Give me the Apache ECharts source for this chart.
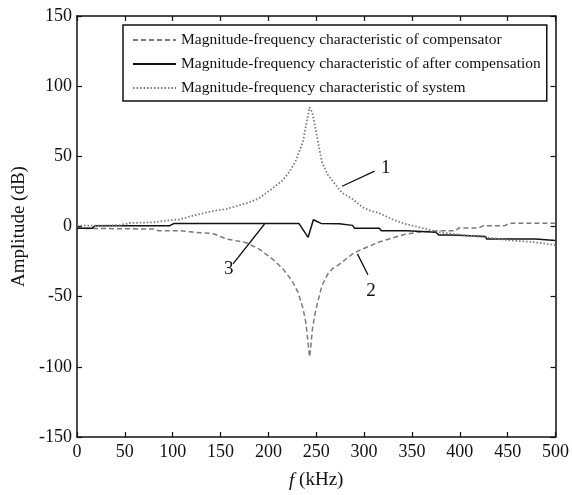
<!DOCTYPE html>
<html>
<head>
<meta charset="utf-8">
<script src="https://cdn.jsdelivr.net/npm/echarts@6/dist/echarts.min.js"></script>
<style>
  html, body { margin: 0; padding: 0; background: #fff; }
  #chart { width: 572px; height: 495px; }
</style>
</head>
<body>
<div id="chart"></div>
<script>
// axis ticks
var xTicks = [0, 50, 100, 150, 200, 250, 300, 350, 400, 450, 500];
var yTicks = [-150, -100, -50, 0, 50, 100, 150];

// curve 2: compensator (dashed)
var compFreq = [0, 80, 85, 107, 121, 142, 156, 177, 190, 204, 215, 225, 231, 236, 239, 241, 243, 244, 246, 248, 250, 253, 256, 262, 267, 274, 288, 295, 316, 326, 343, 357, 378, 396, 399, 420, 425, 447, 452, 500];
var compDb   = [-1.3, -1.8, -3, -3, -4, -5, -8.9, -11.5, -16, -23, -30, -39, -47, -58, -68, -80, -93, -88, -73, -65, -58, -50, -42, -34, -30, -27, -19.5, -17, -11, -8.9, -5.5, -4, -3, -3, -1, -1, 0.6, 0.6, 2.3, 2.3];

// curve 3: after compensation (solid)
var afterFreq = [0, 16, 19, 97, 101, 232, 241.5, 247, 255, 274, 276, 288, 290, 316, 318, 345, 347, 375, 378, 392, 394, 427, 428, 479, 481, 500];
var afterDb   = [-1.3, -1.3, 0.6, 0.6, 2.1, 2.1, -7.7, 4.8, 2.2, 2.0, 0.8, 0.8, -1.3, -1.3, -3, -3, -4.1, -4.1, -6, -6, -7.2, -7.2, -8.9, -8.9, -10, -10];

// curve 1: system (dotted)
var sysFreq = [0, 20, 45, 55, 80, 90, 107, 121, 142, 156, 177, 190, 204, 215, 222, 228, 232, 236, 239, 241, 243, 244, 246, 248, 250, 253, 256, 262, 271, 277, 288, 300, 308, 316, 330, 343, 360, 378, 395, 412, 430, 454, 475, 498, 500];
var sysDb   = [0.6, 0.6, 1, 2.5, 3, 4, 5, 7.7, 11, 12.5, 16.5, 20, 27, 33, 39, 46, 53, 60, 71, 78, 85, 84, 81, 74, 67, 56, 46, 37, 29, 24, 19.5, 13, 11, 9.5, 5, 1.8, -1, -4, -5.5, -6.7, -8, -10, -11, -13, -13];

// curve callouts: label, line start, line end (data units)
var callouts = [
  { label: '1', from: [277, 28.7], to: [311, 39.4] },
  { label: '3', from: [196, 1.8], to: [163, -26.6] },
  { label: '2', from: [293, -19.5], to: [304, -34.4] }
];

function pairs(xs, ys) {
  var out = [];
  for (var i = 0; i < xs.length; i++) out.push([xs[i], ys[i]]);
  return out;
}

var font = 'Liberation Serif';
var ink = '#111';

function boxAxis(extra) {
  var a = {
    type: 'value',
    interval: 50,
    axisLine: { show: true, onZero: false, lineStyle: { color: ink, width: 1.5 } },
    axisTick: { show: true, inside: true, length: 5, lineStyle: { color: ink, width: 1.2 } },
    splitLine: { show: false }
  };
  for (var k in extra) a[k] = extra[k];
  return a;
}

var myChart = echarts.init(document.getElementById('chart'));

var option = {
  animation: false,
  backgroundColor: '#fff',
  grid: { left: 77, right: 15, top: 16, bottom: 56 },
  legend: {
    orient: 'vertical',
    left: 123,
    top: 25,
    padding: [7, 6, 5, 9],
    itemGap: 8,
    itemWidth: 43,
    itemHeight: 14,
    borderColor: ink,
    borderWidth: 1.5,
    backgroundColor: '#fff',
    itemStyle: { opacity: 0 },
    textStyle: { fontFamily: font, fontSize: 15.5, color: ink },
    data: [
      'Magnitude-frequency characteristic of compensator',
      'Magnitude-frequency characteristic of after compensation',
      'Magnitude-frequency characteristic of system'
    ]
  },
  xAxis: [
    boxAxis({
      min: xTicks[0], max: xTicks[xTicks.length - 1],
      position: 'bottom',
      name: '{i|f} (kHz)',
      nameLocation: 'middle',
      nameGap: 34,
      nameTextStyle: {
        fontFamily: font, fontSize: 19, color: ink,
        rich: { i: { fontFamily: font, fontStyle: 'italic', fontSize: 19, color: ink } }
      },
      axisLabel: { fontFamily: font, fontSize: 18, color: ink, margin: 6 }
    }),
    boxAxis({
      min: xTicks[0], max: xTicks[xTicks.length - 1],
      position: 'top',
      axisLabel: { show: false }
    })
  ],
  yAxis: [
    boxAxis({
      min: yTicks[0], max: yTicks[yTicks.length - 1],
      position: 'left',
      name: 'Amplitude (dB)',
      nameLocation: 'middle',
      nameGap: 43,
      nameTextStyle: { fontFamily: font, fontSize: 19, color: ink },
      axisLabel: { fontFamily: font, fontSize: 18, color: ink, margin: 5 }
    }),
    boxAxis({
      min: yTicks[0], max: yTicks[yTicks.length - 1],
      position: 'right',
      axisLabel: { show: false }
    })
  ],
  series: [
    {
      name: 'Magnitude-frequency characteristic of compensator',
      type: 'line',
      symbol: 'none',
      data: pairs(compFreq, compDb),
      lineStyle: { color: '#7a7a7a', width: 1.5, type: [5, 3] },
      itemStyle: { color: '#7a7a7a' }
    },
    {
      name: 'Magnitude-frequency characteristic of after compensation',
      type: 'line',
      symbol: 'none',
      data: pairs(afterFreq, afterDb),
      lineStyle: { color: ink, width: 1.5 },
      itemStyle: { color: ink },
      markLine: {
        silent: true,
        symbol: ['none', 'none'],
        lineStyle: { color: ink, width: 1.3, type: 'solid' },
        label: { show: true, position: 'end', fontFamily: font, fontSize: 19, color: ink, distance: 7 },
        data: callouts.map(function (c) {
          return [
            { coord: c.from },
            { coord: c.to, label: { formatter: c.label } }
          ];
        })
      }
    },
    {
      name: 'Magnitude-frequency characteristic of system',
      type: 'line',
      symbol: 'none',
      data: pairs(sysFreq, sysDb),
      lineStyle: { color: '#7a7a7a', width: 1.8, type: [1.5, 2] },
      itemStyle: { color: '#7a7a7a' }
    }
  ]
};

myChart.setOption(option);
</script>
</body>
</html>
